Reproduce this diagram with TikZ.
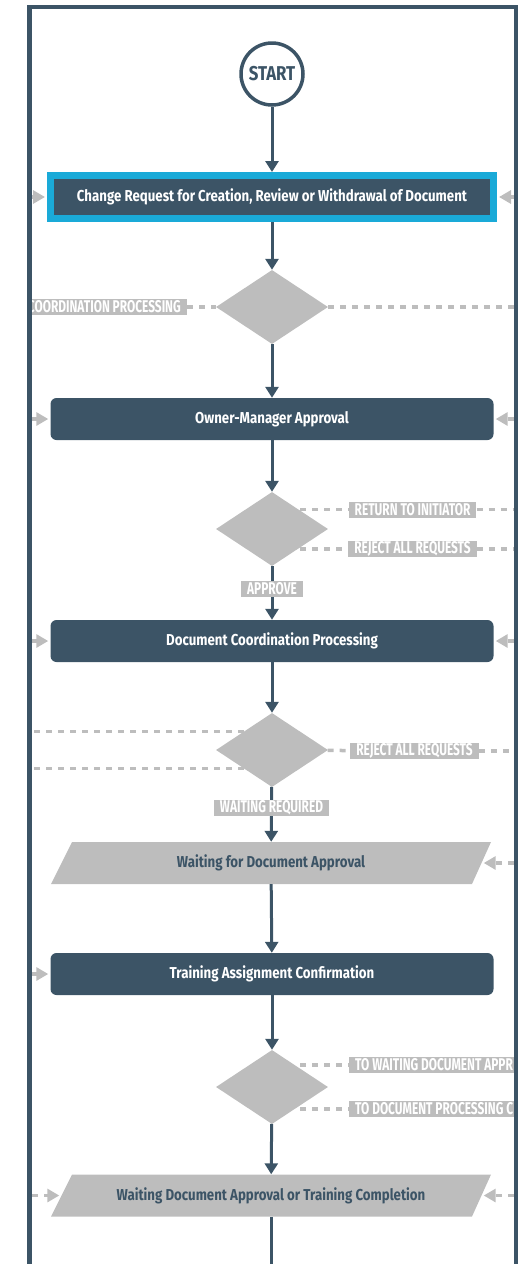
\documentclass[tikz,border=0pt]{standalone}
\usepackage{fontspec}
\setmainfont{Fira Sans}
\newfontfamily\boxfont{Fira Sans}[FakeStretch=0.84]
\newfontfamily\tagfont{Fira Sans}[FakeStretch=0.70]
\definecolor{FlowSlate}{HTML}{3C5466}
\definecolor{FlowCyan}{HTML}{1AAAD8}
\definecolor{FlowGrey}{HTML}{BDBDBD}
\usetikzlibrary{arrows.meta,shapes.geometric,calc}

\tikzset{
  startnode/.style={circle, draw=FlowSlate, line width=3.5pt, fill=white, minimum size=62pt, inner sep=0pt, text=FlowSlate, font=\boxfont\bfseries\fontsize{20}{20}\selectfont},
  flowbox/.style={rectangle, rounded corners=6pt, fill=FlowSlate, text=white, minimum width=443pt, minimum height=42pt, inner sep=0pt, font=\boxfont\bfseries\fontsize{15.8}{17}\selectfont},
  firstbox/.style={flowbox, sharp corners, draw=FlowCyan, line width=7pt, minimum height=43pt},
  waitbox/.style={rectangle, text=FlowSlate, minimum width=440pt, minimum height=42pt, inner sep=0pt, font=\boxfont\bfseries\fontsize{15.8}{17}\selectfont,
    path picture={\fill[FlowGrey] (path picture bounding box.south west) -- ([xshift=-19pt]path picture bounding box.south east) -- (path picture bounding box.north east) -- ([xshift=21pt]path picture bounding box.north west) -- cycle;}},
  decision/.style={diamond, fill=FlowGrey, minimum width=112pt, minimum height=74pt, inner sep=0pt},
  tag/.style={rectangle, fill=FlowGrey, text=white, inner xsep=6pt, inner ysep=0pt, minimum height=16pt, font=\tagfont\bfseries\fontsize{17}{17}\selectfont},
  flow/.style={draw=FlowSlate, line width=3pt, -{Triangle[width=13pt,length=11pt]}},
  dashline/.style={draw=FlowGrey, line width=3.5pt, dash pattern=on 6pt off 6pt},
  inlet/.style={dashline, -{Triangle[width=13pt,length=12pt]}, shorten >=2pt}
}

\begin{document}
\begin{tikzpicture}[x=1pt,y=-1pt]
  \useasboundingbox (0,0) rectangle (526,1264);
  \coordinate (frameL) at (32,0);
  \coordinate (frameR) at (514,0);
  \coordinate (bottom) at (272,1280);

  \begin{scope}
    \clip (32,9) rectangle (514,1264);

    \node[startnode] (start) at (272,74) {START};
    \node[firstbox] (b1) at (272,197) {Change Request for Creation, Review or Withdrawal of Document};
    \node[decision] (d1) at (272,307) {};
    \node[tag, anchor=east] (t1) at (187,307) {COORDINATION PROCESSING};
    \node[flowbox] (b2) at (272,419) {Owner-Manager Approval};
    \node[decision] (d2) at (272,529) {};
    \node[tag] (t2) at (412.5,509.5) {RETURN TO INITIATOR};
    \node[tag] (t3) at (412.5,549) {REJECT ALL REQUESTS};
    \node[flowbox] (b3) at (272,641) {Document Coordination Processing};
    \node[decision] (d3) at (272,750) {};
    \node[tag] (t5) at (414.5,751) {REJECT ALL REQUESTS};
    \node[waitbox] (w1) at (271,863) {Waiting for Document Approval};
    \node[flowbox] (b4) at (272,974) {Training Assignment Confirmation};
    \node[decision] (d4) at (272,1087) {};
    \node[tag, anchor=west] (t7) at (349,1065) {TO WAITING DOCUMENT APPR};
    \node[tag, anchor=west] (t8) at (349,1109) {TO DOCUMENT PROCESSING C};
    \node[waitbox] (w2) at (271,1195.5) {Waiting Document Approval or Training Completion};

    \draw[flow] (start) -- (b1);
    \draw[flow] (b1) -- (d1);
    \draw[flow] (d1) -- (b2);
    \draw[flow] (b2) -- (d2);
    \draw[flow] (d2) -- node[tag, pos=0.42] (t4) {APPROVE} (b3);
    \draw[flow] (b3) -- (d3);
    \draw[flow] (d3) -- node[tag, pos=0.38] (t6) {WAITING REQUIRED} (w1);
    \draw[flow] (w1) -- (b4);
    \draw[flow] (b4) -- (d4);
    \draw[flow] (d4) -- (w2);
    \draw[draw=FlowSlate, line width=3pt] (w2.south) -- (w2.south |- bottom);

    \draw[dashline] (t1) -- (d1);
    \draw[dashline] (d1) -- (d1 -| frameR);
    \draw[dashline] (t2 -| d2.north east) -- (t2);
    \draw[dashline] (t2) -- (t2 -| frameR);
    \draw[dashline] (t3 -| d2.south east) -- (t3);
    \draw[dashline] (t3) -- (t3 -| frameR);
    \draw[dashline] (d3.north west) -- (d3.north west -| frameL);
    \draw[dashline] (d3.south west) -- (d3.south west -| frameL);
    \draw[dashline] (d3) -- (t5);
    \draw[dashline] (t5) -- (t5 -| frameR);
    \draw[dashline] (t7 -| d4.north east) -- (t7);
    \draw[dashline] (t8 -| d4.south east) -- (t8);

    \draw[inlet] (b1.west -| frameL) -- (b1.west);
    \draw[inlet] (b1.east -| frameR) -- (b1.east);
    \draw[inlet] (b2.west -| frameL) -- (b2.west);
    \draw[inlet] (b2.east -| frameR) -- (b2.east);
    \draw[inlet] (b3.west -| frameL) -- (b3.west);
    \draw[inlet] (b3.east -| frameR) -- (b3.east);
    \draw[inlet] (w1.east -| frameR) -- ([xshift=-9.5pt]w1.east);
    \draw[inlet] (b4.west -| frameL) -- (b4.west);
    \draw[inlet] (w2.west -| frameL) -- ([xshift=10.5pt]w2.west);
    \draw[inlet] (w2.east -| frameR) -- ([xshift=-9.5pt]w2.east);
  \end{scope}

  \draw[FlowSlate, line width=4.5pt] (29.5,1280) |- (516,7) -- (516,1280);
\end{tikzpicture}
\end{document}
